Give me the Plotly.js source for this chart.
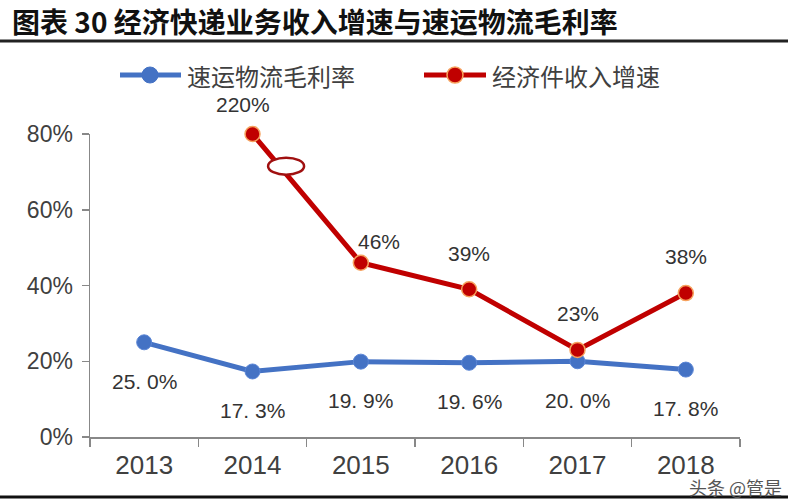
<!DOCTYPE html>
<html>
<head>
<meta charset="utf-8">
<script src="https://cdn.plot.ly/plotly-3.0.1.min.js"></script>
<style>html,body{margin:0;padding:0;background:#fff;}#chart{width:800px;height:504px;}</style>
</head>
<body>
<div id="chart"></div>
<script>
// ---- data ----
var years = ['2013', '2014', '2015', '2016', '2017', '2018'];
var grossMargin = [25.0, 17.3, 19.9, 19.6, 20.0, 17.8];      // 速运物流毛利率 (%)
var revenueGrowth = [null, 220, 46, 39, 23, 38];             // 经济件收入增速 (%)
var yTicks = [0, 20, 40, 60, 80];
var axisCap = 80;
var seriesNames = ['速运物流毛利率', '经济件收入增速'];
var titleText = '图表 30 经济快递业务收入增速与速运物流毛利率';

// ---- styles ----
var blue = '#4472C4', red = '#C00000', txt = '#404040';
var cjk = '"Noto Sans CJK SC", "Noto Sans", sans-serif';
var narrow = '"Liberation Sans Narrow", "Liberation Sans", Arial, sans-serif';
var lblFont = '"Liberation Sans", Arial, sans-serif';
var redShift = [null, [-10, 30], [18, 21], [0, 36], [0, 36], [0, 37]];

var plotted = revenueGrowth.map(function (v) { return v === null ? null : Math.min(v, axisCap); });

var traces = [
  {x: years, y: grossMargin, type: 'scatter', mode: 'lines+markers', name: seriesNames[0],
   line: {color: blue, width: 5}, marker: {color: blue, size: 15, line: {color: '#5b86d6', width: 1}},
   cliponaxis: false, showlegend: false},
  {x: years, y: plotted, type: 'scatter', mode: 'lines+markers', name: seriesNames[1],
   line: {color: red, width: 5}, marker: {color: red, size: 15, line: {color: '#F6A25E', width: 1.5}},
   cliponaxis: false, connectgaps: false, showlegend: false}
];

var ann = [];
years.forEach(function (yr, i) {
  ann.push({x: i, y: grossMargin[i], xref: 'x', yref: 'y', yshift: -39, showarrow: false,
    text: grossMargin[i].toFixed(1).replace('.', '. ') + '%', font: {family: lblFont, size: 21, color: '#333'}});
  if (revenueGrowth[i] !== null) {
    ann.push({x: i, y: plotted[i], xref: 'x', yref: 'y', xshift: redShift[i][0], yshift: redShift[i][1], showarrow: false,
      text: revenueGrowth[i] + '%', font: {family: lblFont, size: 21, color: '#333'}});
  }
});

// paper conversion helpers for decorations (plot area 90..740 x, 134..437 y)
function px(p) { return (p - 90) / 650; }
function py(p) { return (437 - p) / 303; }

// legend text
ann.push({xref: 'paper', yref: 'paper', x: px(185), y: py(75), xanchor: 'left', yanchor: 'middle', showarrow: false,
  text: seriesNames[0], font: {family: cjk, size: 24, color: txt}});
ann.push({xref: 'paper', yref: 'paper', x: px(490), y: py(75), xanchor: 'left', yanchor: 'middle', showarrow: false,
  text: seriesNames[1], font: {family: cjk, size: 24, color: txt}});
// watermark
ann.push({xref: 'paper', yref: 'paper', x: px(784), y: py(487), xanchor: 'right', yanchor: 'middle', showarrow: false,
  text: '头条 @管是', font: {family: cjk, size: 18, color: '#555'}});

var shapes = [
  // title rule & bottom rule
  {type: 'line', xref: 'paper', yref: 'paper', x0: px(0), x1: px(788), y0: py(41), y1: py(41), line: {color: '#222', width: 3}},
  {type: 'line', xref: 'paper', yref: 'paper', x0: px(0), x1: px(788), y0: py(497), y1: py(497), line: {color: '#111', width: 3}},
  // legend symbols
  {type: 'line', xref: 'paper', yref: 'paper', x0: px(120), x1: px(181), y0: py(75), y1: py(75), line: {color: blue, width: 5}},
  {type: 'circle', xref: 'paper', yref: 'paper', xsizemode: 'pixel', ysizemode: 'pixel', xanchor: px(150), yanchor: py(75),
   x0: -8, x1: 8, y0: -8, y1: 8, fillcolor: blue, line: {color: blue, width: 1}},
  {type: 'line', xref: 'paper', yref: 'paper', x0: px(424), x1: px(486), y0: py(75), y1: py(75), line: {color: red, width: 5}},
  {type: 'circle', xref: 'paper', yref: 'paper', xsizemode: 'pixel', ysizemode: 'pixel', xanchor: px(455), yanchor: py(75),
   x0: -8, x1: 8, y0: -8, y1: 8, fillcolor: red, line: {color: '#F6A25E', width: 1.5}},
  // axis break marker on the capped 2014 segment
  {type: 'circle', xref: 'x', yref: 'y', xsizemode: 'pixel', ysizemode: 'pixel', xanchor: 1.31, yanchor: 71.5,
   x0: -18, x1: 18, y0: -8.5, y1: 8.5, fillcolor: '#fff', line: {color: '#A01010', width: 2.5}, layer: 'above'}
];

var layout = {
  width: 800, height: 504,
  margin: {l: 90, r: 60, t: 134, b: 67},
  paper_bgcolor: '#fff', plot_bgcolor: '#fff',
  showlegend: false,
  title: {text: '<b>' + titleText + '</b>', xref: 'container', yref: 'container', x: 12 / 800, xanchor: 'left',
          y: 1 - 23 / 504, yanchor: 'middle', font: {family: cjk, size: 28, color: '#111'}},
  xaxis: {type: 'category', range: [-0.5, 5.5], tickson: 'boundaries', ticks: 'outside', ticklen: 8, tickwidth: 1.5,
          tickcolor: '#888', showline: true, linecolor: '#888', linewidth: 1.5, showgrid: false, zeroline: false,
          tickfont: {family: narrow, size: 26, color: txt}, ticklabelstandoff: 4, fixedrange: true},
  yaxis: {range: [0, 80], tickvals: yTicks, ticktext: yTicks.map(function (v) { return v + '%'; }),
          ticks: 'outside', ticklen: 7, tickwidth: 1.5, tickcolor: '#888', showline: true, linecolor: '#888', linewidth: 1.5,
          showgrid: false, zeroline: false, tickfont: {family: narrow, size: 23, color: txt}, ticklabelstandoff: 4, fixedrange: true},
  annotations: ann,
  shapes: shapes
};

Plotly.newPlot('chart', traces, layout, {displayModeBar: false, staticPlot: true});
</script>
</body>
</html>
